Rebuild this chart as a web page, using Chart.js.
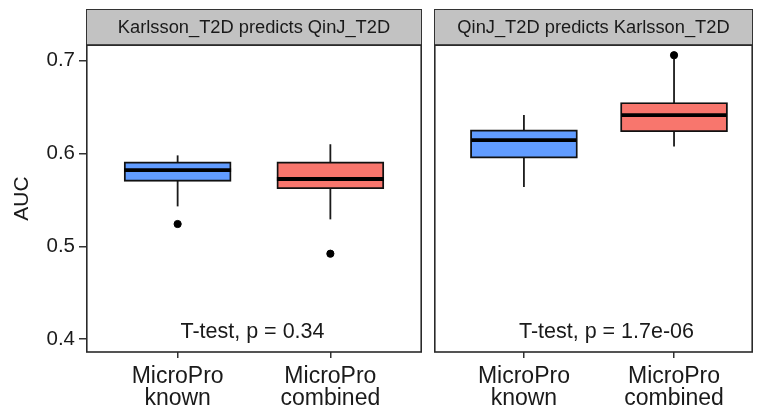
<!DOCTYPE html>
<html>
<head>
<meta charset="utf-8">
<script src="https://cdn.jsdelivr.net/npm/chart.js@4.4.0/dist/chart.umd.min.js"></script>
<style>
  body { margin: 0; background: #fff; }
  #wrap { position: relative; width: 758px; height: 410px; }
  canvas { position: absolute; top: 0; }
  #left-panel { left: 0; }
  #right-panel { left: 428px; }
</style>
</head>
<body>
<div id="wrap">
  <canvas id="left-panel" width="428" height="410"></canvas>
  <canvas id="right-panel" width="330" height="410"></canvas>
</div>
<script>
// Data
const categories = [['MicroPro', 'known'], ['MicroPro', 'combined']];
const facetTitles = ['Karlsson_T2D predicts QinJ_T2D', 'QinJ_T2D predicts Karlsson_T2D'];
const testLabels = ['T-test, p = 0.34', 'T-test, p = 1.7e-06'];
const yTicks = [0.4, 0.5, 0.6, 0.7];

// per panel, per category
const whiskerLow = [[0.543, 0.529], [0.564, 0.6075]];
const q1 = [[0.570, 0.562], [0.595, 0.6235]];
const median = [[0.582, 0.5725], [0.6145, 0.6415]];
const q3 = [[0.591, 0.591], [0.6255, 0.655]];
const whiskerHigh = [[0.598, 0.610], [0.6415, 0.702]];
const outliers = [[[0.524], [0.492]], [[], [0.706]]];

const boxColors = ['#619CFF', '#F8766D'];
const ink = '#1a1a1a';
const font = '"Liberation Sans", Arial, sans-serif';

// draws the facet strip, the panel frame and the t-test text
const facetPlugin = {
  id: 'facet',
  afterDraw(chart, args, opts) {
    const { ctx, chartArea: a } = chart;
    ctx.save();
    // strip
    ctx.fillStyle = '#c2c2c2';
    ctx.fillRect(a.left, 9, a.right - a.left, a.top - 9);
    ctx.strokeStyle = '#333';
    ctx.lineWidth = 1;
    ctx.strokeRect(a.left + 0.5, 9.5, a.right - a.left - 1, a.top - 9);
    ctx.fillStyle = ink;
    ctx.font = '18.3px ' + font;
    ctx.textAlign = 'center';
    ctx.textBaseline = 'middle';
    ctx.fillText(opts.title, (a.left + a.right) / 2, (9 + a.top) / 2 + 1);
    // panel frame
    ctx.lineWidth = 1.6;
    ctx.strokeStyle = '#2a2a2a';
    ctx.strokeRect(a.left + 0.8, a.top, a.right - a.left - 1.6, a.bottom - a.top);
    // test label
    ctx.font = '21.5px ' + font;
    ctx.fillText(opts.label, chart.scales.x.getPixelForValue(opts.labelX),
      chart.scales.y.getPixelForValue(opts.labelY));
    ctx.restore();
  }
};

function makePanel(canvasId, p, cfg) {
  const datasets = [];
  categories.forEach((c, i) => {
    datasets.push({
      type: 'line',
      data: [{ x: i + 1, y: whiskerLow[p][i] }, { x: i + 1, y: whiskerHigh[p][i] }],
      borderColor: ink, borderWidth: 1.8, pointRadius: 0, fill: false, order: 4
    });
    datasets.push({
      type: 'line',
      data: [{ x: i + 1 - 0.35, y: median[p][i] }, { x: i + 1 + 0.35, y: median[p][i] }],
      borderColor: '#000', borderWidth: 3.8, pointRadius: 0, fill: false, order: 1
    });
    datasets.push({
      type: 'scatter',
      data: outliers[p][i].map(v => ({ x: i + 1, y: v })),
      backgroundColor: '#000', borderColor: '#000', pointRadius: 3.6, order: 0
    });
  });
  datasets.push({
    type: 'bar',
    data: categories.map((c, i) => ({ x: i + 1, y: [q1[p][i], q3[p][i]] })),
    backgroundColor: boxColors,
    borderColor: '#111',
    borderWidth: 1.9,
    borderSkipped: false,
    barThickness: 107,
    order: 2
  });

  return new Chart(document.getElementById(canvasId), {
    type: 'bar',
    data: { datasets },
    plugins: [facetPlugin],
    options: {
      responsive: false,
      animation: false,
      layout: { padding: cfg.padding },
      plugins: {
        legend: { display: false },
        tooltip: { enabled: false },
        facet: { title: facetTitles[p], label: testLabels[p], labelX: cfg.labelX, labelY: 0.408 }
      },
      scales: {
        x: {
          type: 'linear',
          offset: false,
          min: cfg.xMin,
          max: cfg.xMax,
          afterBuildTicks: s => { s.ticks = [{ value: 1 }, { value: 2 }]; },
          afterFit: s => { s.height = 58; },
          ticks: {
            callback: (v, i) => categories[i],
            font: { family: font, size: 23, lineHeight: 0.95 },
            color: ink,
            padding: 8,
            autoSkip: false,
            maxRotation: 0
          },
          grid: { offset: false, drawOnChartArea: false, tickLength: 6, color: '#333', lineWidth: 1.5 },
          border: { display: false }
        },
        y: {
          type: 'linear',
          display: cfg.showY,
          min: 0.386,
          max: 0.717,
          afterBuildTicks: s => { s.ticks = yTicks.map(v => ({ value: v })); },
          afterFit: s => { if (cfg.showY) s.width = 86; },
          ticks: {
            callback: v => v.toFixed(1),
            font: { family: font, size: 20.5 },
            color: ink,
            padding: 4
          },
          grid: { drawOnChartArea: false, tickLength: 7, color: '#333', lineWidth: 1.5 },
          border: { display: false },
          title: {
            display: true,
            text: 'AUC',
            font: { family: font, size: 21 },
            color: ink,
            padding: { top: 10, bottom: 0 }
          }
        }
      }
    }
  });
}

makePanel('left-panel', 0, {
  padding: { top: 45, right: 6, left: 0, bottom: 0 },
  xMin: 0.4, xMax: 2.6, labelX: 1.49, showY: true
});
makePanel('right-panel', 1, {
  padding: { top: 45, right: 1, left: 6, bottom: 0 },
  xMin: 0.401, xMax: 2.526, labelX: 1.55, showY: false
});
</script>
</body>
</html>
